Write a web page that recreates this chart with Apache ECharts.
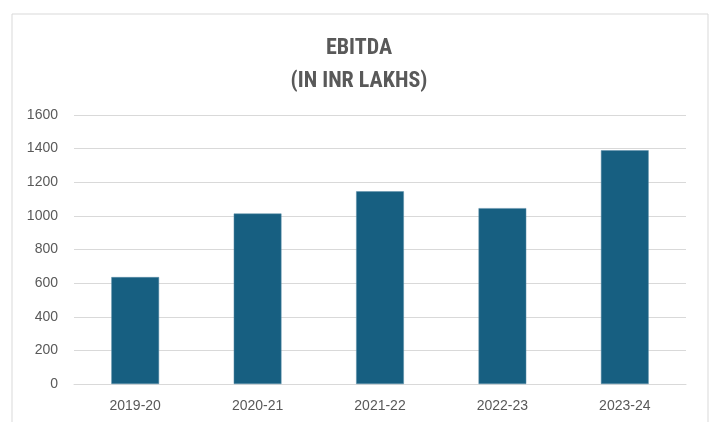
<!DOCTYPE html>
<html>
<head>
<meta charset="utf-8">
<script src="https://cdn.jsdelivr.net/npm/echarts@6/dist/echarts.min.js"></script>
<style>
  html, body { margin: 0; padding: 0; background: #fff; }
  #chart { width: 718px; height: 422px; }
</style>
</head>
<body>
<div id="chart"></div>
<script>
// EBITDA by year
const years = ['2019-20', '2020-21', '2021-22', '2022-23', '2023-24']
const ebitda = [636, 1014, 1146, 1046, 1390]
const yMin = 0, yMax = 1600, yStep = 200

const chart = echarts.init(document.getElementById('chart'))
chart.setOption({
  animation: false,
  title: {
    text: 'EBITDA\n(IN INR LAKHS)',
    left: 'center',
    top: 27,
    textStyle: {
      fontFamily: '"Liberation Sans Narrow", "Roboto Condensed", sans-serif',
      fontWeight: 'bold',
      fontSize: 22,
      lineHeight: 33,
      color: '#595959'
    }
  },
  graphic: [{
    type: 'rect',
    shape: { x: 12, y: 14, width: 696, height: 420 },
    style: { fill: 'none', stroke: '#d9d9d9', lineWidth: 1 },
    silent: true
  }],
  grid: { left: 74, right: 32, top: 115, bottom: 38 },
  xAxis: {
    type: 'category',
    data: years,
    axisLine: { show: true, lineStyle: { color: '#d9d9d9' } },
    axisTick: { show: false },
    axisLabel: { color: '#595959', fontSize: 14, margin: 15, fontFamily: 'Liberation Sans, sans-serif' }
  },
  yAxis: {
    type: 'value',
    min: yMin,
    max: yMax,
    interval: yStep,
    axisLine: { show: false },
    axisTick: { show: false },
    splitLine: { lineStyle: { color: '#d9d9d9', width: 1 } },
    axisLabel: {
      color: '#595959', fontSize: 14, margin: 16, fontFamily: 'Liberation Sans, sans-serif',
      formatter: v => String(v)
    }
  },
  series: [{
    name: 'EBITDA',
    type: 'bar',
    data: ebitda,
    barWidth: '39%',
    itemStyle: { color: '#175f81', borderColor: '#5d8fa8', borderWidth: 0.5 }
  }]
})
</script>
</body>
</html>
